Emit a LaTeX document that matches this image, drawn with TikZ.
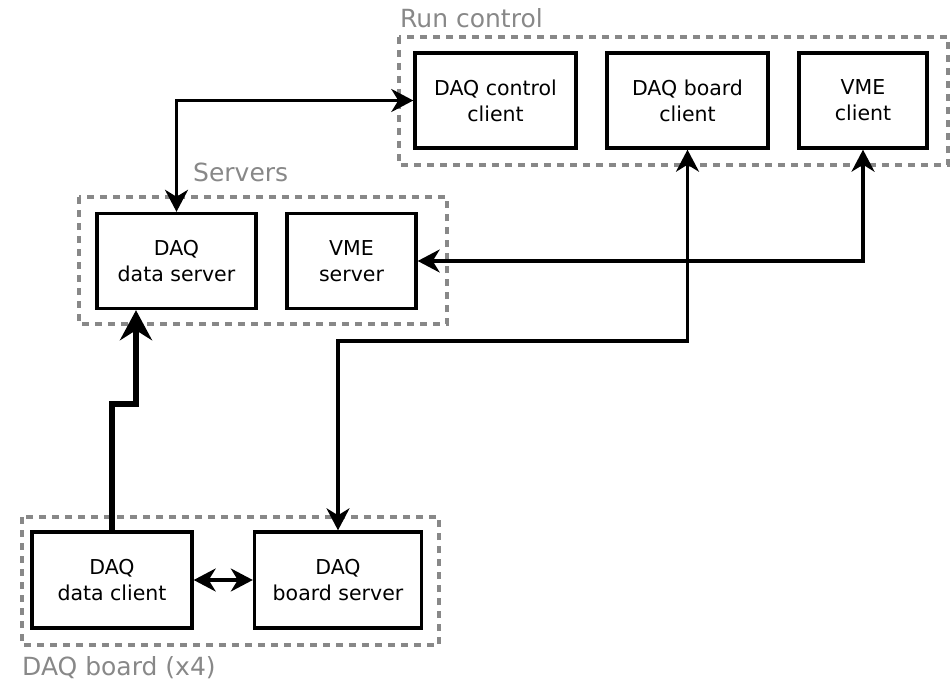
\documentclass[tikz,border=0pt]{standalone}
\usepackage{fontspec}
\setmainfont{DejaVu Sans}
\usetikzlibrary{arrows.meta}
\definecolor{groupgray}{HTML}{888888}
\begin{document}
\begin{tikzpicture}[x=1pt,y=-1pt,
  box/.style={draw, line width=3.4pt, fill=white, minimum height=95pt,
    align=center, inner sep=0pt, font=\fontsize{20.5}{26}\selectfont},
  group/.style={draw=groupgray, line width=3.4pt, dash pattern=on 7pt off 6pt},
  grouplabel/.style={text=groupgray, anchor=base west, inner sep=0pt,
    font=\fontsize{25}{29}\selectfont},
  link/.style={line width=3.4pt,
    arrows={Stealth[length=22pt,width=23pt,inset=7pt]-Stealth[length=22pt,width=23pt,inset=7pt]}},
  datalink/.style={line width=6.5pt,
    arrows={-Stealth[length=30pt,width=32pt,inset=10pt]}}]

\useasboundingbox (0,0) rectangle (950,682);

% group frames
\draw[group] (399,37) rectangle (948,165);
\draw[group] (79,197) rectangle (447,324);
\draw[group] (22,517) rectangle (439,645);

% group titles
\node[grouplabel] (runlbl) at (400,28) {Run control};
\node[grouplabel] (srvlbl) at (193,181) {Servers};
\node[grouplabel] (brdlbl) at (22,675) {DAQ board (x4)};

% run control clients
\node[box, minimum width=161pt] (dcc) at (495.5,100.5) {DAQ control\\client};
\node[box, minimum width=161pt] (dbc) at (687.5,100.5) {DAQ board\\client};
\node[box, minimum width=128pt] (vmec) at (863,100.5) {VME\\client};

% servers
\node[box, minimum width=159pt] (dds) at (176.5,261) {DAQ\\data server};
\node[box, minimum width=129pt] (vmes) at (351.5,261) {VME\\server};

% board processes
\node[box, minimum width=160pt, minimum height=96pt] (ddc) at (112,580) {DAQ\\data client};
\node[box, minimum width=167pt, minimum height=96pt] (dbs) at (338,580) {DAQ\\board server};

% connections
\coordinate (cross) at (687.5,341);
\coordinate (jog) at (136,404);

\draw[link] (dds.north) |- (dcc.west);
\draw[link] (vmes.east) -| (vmec.south);
\draw[link] (dbc.south) -- (cross) -| (dbs.north);
\draw[link] (ddc.east) -- (dbs.west);
\draw[datalink] (ddc.north) |- (jog) -- (jog |- dds.south);
\end{tikzpicture}
\end{document}
